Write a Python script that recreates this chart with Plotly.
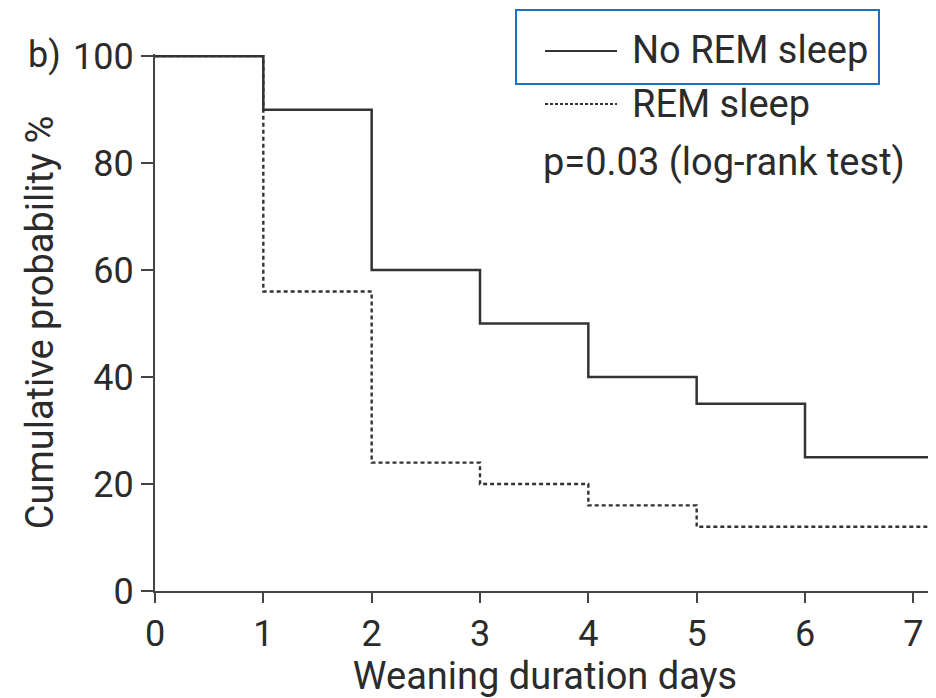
import plotly.graph_objects as go

# Data (Kaplan-Meier style step curves)
days = [0, 1, 2, 3, 4, 5, 6, 7.2]
no_rem = [100, 90, 60, 50, 40, 35, 25, 25]
rem = [100, 56, 24, 20, 16, 12, 12, 12]
x_ticks = [0, 1, 2, 3, 4, 5, 6, 7]
y_ticks = [0, 20, 40, 60, 80, 100]

FONT = "Roboto"
INK = "#2b2b2b"
LINE = "#333333"
FS = 38
TFS = 36

fig = go.Figure()
fig.add_trace(go.Scatter(x=days, y=no_rem, mode="lines", line_shape="hv",
                         line=dict(color=LINE, width=2.5), name="No REM sleep",
                         showlegend=False))
fig.add_trace(go.Scatter(x=days, y=rem, mode="lines", line_shape="hv",
                         line=dict(color=LINE, width=2.4, dash="4px,3px"), name="REM sleep",
                         showlegend=False))

# page body has an 8px margin; compensate so the screenshot lines up
OX, OY = 8, 8
W, H = 936 - OX, 698 - OY
L, R, T, B = 155 - OX, 1, 54 - OY, 107


def px(xp):
    return (xp - OX - L) / (W - L - R)


def py(yp):
    return 1 - (yp - OY - T) / (H - T - B)


# legend samples
fig.add_shape(type="line", xref="paper", yref="paper", x0=px(545), x1=px(617), y0=py(51), y1=py(51),
              line=dict(color=LINE, width=2))
fig.add_shape(type="line", xref="paper", yref="paper", x0=px(545), x1=px(617), y0=py(104), y1=py(104),
              line=dict(color=LINE, width=2, dash="3px,2px"))
# blue highlight box
fig.add_shape(type="rect", xref="paper", yref="paper", x0=px(516), x1=px(879), y0=py(10), y1=py(84),
              line=dict(color="#1a72c4", width=2))

ann_font = dict(size=FS, color=INK, family=FONT)
fig.add_annotation(xref="paper", yref="paper", x=px(630), y=py(50), text="No REM sleep",
                   showarrow=False, xanchor="left", yanchor="middle", font=ann_font)
fig.add_annotation(xref="paper", yref="paper", x=px(630), y=py(104), text="REM sleep",
                   showarrow=False, xanchor="left", yanchor="middle", font=ann_font)
fig.add_annotation(xref="paper", yref="paper", x=px(541), y=py(162), text="p=0.03 (log-rank test)",
                   showarrow=False, xanchor="left", yanchor="middle", font=ann_font)
fig.add_annotation(xref="paper", yref="paper", x=px(26), y=py(55), text="b)",
                   showarrow=False, xanchor="left", yanchor="middle", font=dict(size=TFS, color=INK, family=FONT))

fig.update_layout(
    width=W, height=H,
    margin=dict(l=L, r=R, t=T, b=B, autoexpand=False),
    paper_bgcolor="white", plot_bgcolor="white",
    font=dict(family=FONT, size=FS, color=INK),
    xaxis=dict(range=[0, 7.2], tickvals=x_ticks, ticks="outside", ticklen=10, tickwidth=2,
               tickcolor="#444", showline=True, linecolor="#444", linewidth=2, showgrid=False,
               zeroline=False, tickfont=dict(size=TFS), automargin=False,
               title=dict(text="Weaning duration days", font=dict(size=FS), standoff=4)),
    yaxis=dict(range=[0, 100.4], tickvals=y_ticks, ticks="outside", ticklen=12, tickwidth=2,
               tickcolor="#444", showline=True, linecolor="#444", linewidth=2, showgrid=False,
               zeroline=False, tickfont=dict(size=TFS), automargin=False,
               title=dict(text="Cumulative probability %", font=dict(size=FS), standoff=8)),
)

fig.write_html("out.html")
